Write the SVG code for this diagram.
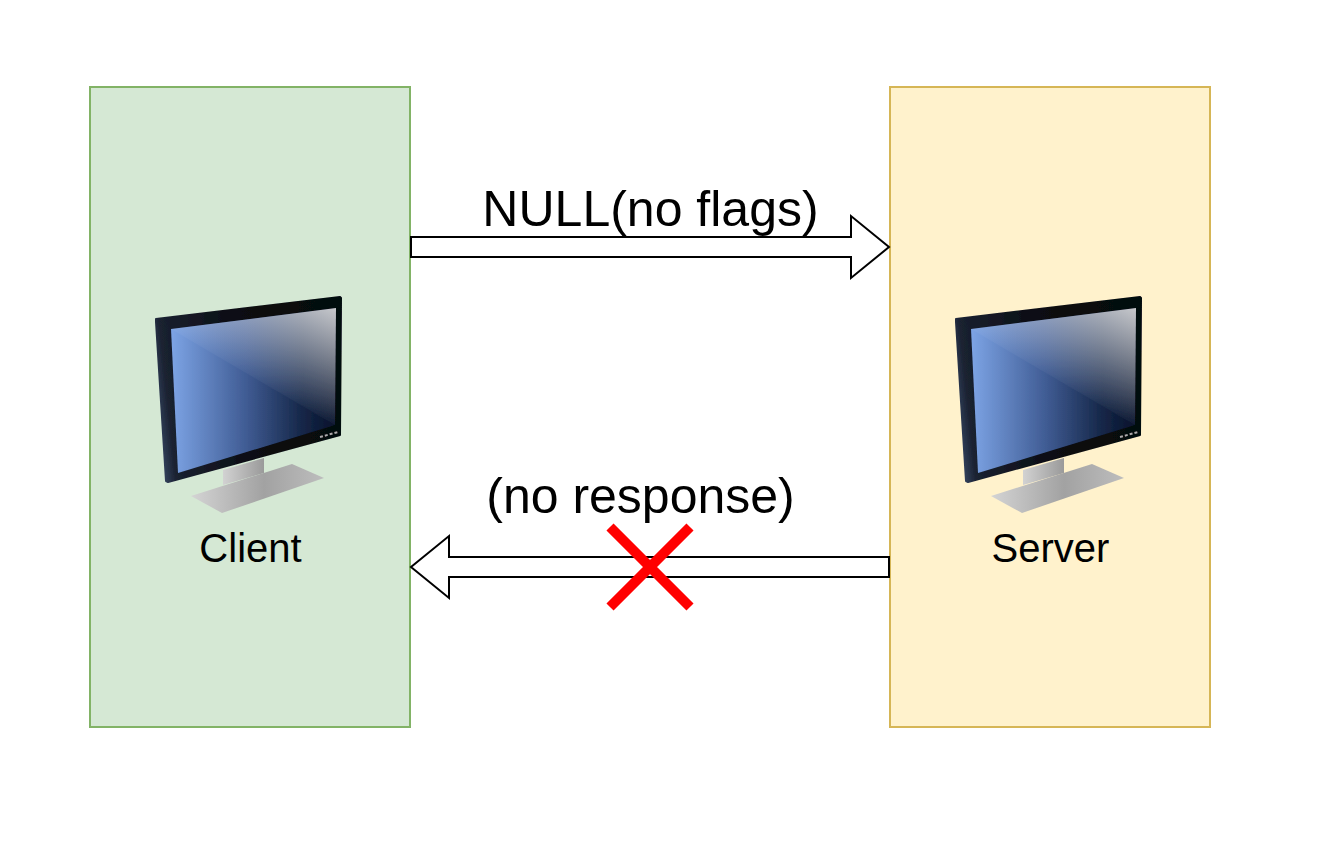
<svg xmlns="http://www.w3.org/2000/svg" width="1339" height="847" viewBox="0 0 1339 847">
<style>
text{font-family:"Liberation Sans",Arial,sans-serif;fill:#000;text-anchor:middle}
.lg{font-size:50px}.sm{font-size:40px}
.arrow{fill:#fff;stroke:#000;stroke-width:2;stroke-miterlimit:10}
</style>
<defs>
<linearGradient id="scrBase" gradientUnits="userSpaceOnUse" x1="172" y1="400" x2="336" y2="400"><stop offset="0" stop-color="#7ca3e4"/><stop offset=".45" stop-color="#405c94"/><stop offset=".8" stop-color="#152647"/><stop offset="1" stop-color="#07122b"/></linearGradient>
<linearGradient id="scrGloss" gradientUnits="userSpaceOnUse" x1="285" y1="395.500" x2="336" y2="308"><stop offset="0" stop-color="#fff" stop-opacity=".04"/><stop offset="1" stop-color="#e8e8e8" stop-opacity=".85"/></linearGradient>
<linearGradient id="bezel" gradientUnits="userSpaceOnUse" x1="155" y1="400" x2="342" y2="380"><stop offset="0" stop-color="#34435f"/><stop offset=".07" stop-color="#1a2130"/><stop offset=".5" stop-color="#0a0c12"/><stop offset="1" stop-color="#05070b"/></linearGradient>
<linearGradient id="neck" x1="0" y1="0" x2="1" y2="0"><stop offset="0" stop-color="#d2d2d2"/><stop offset="1" stop-color="#9a9a9a"/></linearGradient>
<linearGradient id="base" x1="0" y1="0" x2="1" y2="0"><stop offset="0" stop-color="#d4d4d4"/><stop offset=".55" stop-color="#a2a2a2"/><stop offset="1" stop-color="#bdbdbd"/></linearGradient>
<filter id="soft" x="-5%" y="-5%" width="110%" height="110%"><feGaussianBlur stdDeviation=".5"/></filter>
<g id="monitor" filter="url(#soft)">
<polygon points="191,496 292,464 324,478 222,513" fill="url(#base)"/>
<polygon points="223,470 264,458 264,473 223,485" fill="url(#neck)"/>
<polygon points="156,319 340,297 341,298 340,435 168,482 166,481 156,322" fill="url(#bezel)" stroke="url(#bezel)" stroke-width="2" stroke-linejoin="round"/>
<polygon points="171,329 336,308 335,425 178,473" fill="url(#scrBase)"/>
<polygon points="171,329 336,308 335,425" fill="url(#scrGloss)"/>
<path d="M320,437l18-5" stroke="#aaa" stroke-width="2" stroke-dasharray="3 2" fill="none"/>
</g>
</defs>
<g id="client">
<rect x="90" y="87" width="320" height="640" fill="#d5e8d4" stroke="#82b366" stroke-width="2"/>
<use href="#monitor"/>
<text class="sm" x="250.500" y="562">Client</text>
</g>
<g id="server">
<rect x="890" y="87" width="320" height="640" fill="#fff2cc" stroke="#d6b656" stroke-width="2"/>
<use href="#monitor" x="800"/>
<text class="sm" x="1050.500" y="562">Server</text>
</g>
<g id="connectors">
<polygon class="arrow" points="411,237 851,237 851,216 889,247 851,278 851,257 411,257"/>
<polygon class="arrow" points="889,577 449,577 449,598 411,567 449,536 449,557 889,557"/>
</g>
<text class="lg" x="650.500" y="226">NULL(no flags)</text>
<text class="lg" x="640.500" y="513">(no response)</text>
<g id="cross" stroke="#f00" stroke-width="10" fill="none">
<path d="M610,527L690,607M690,527L610,607"/>
</g>
</svg>
